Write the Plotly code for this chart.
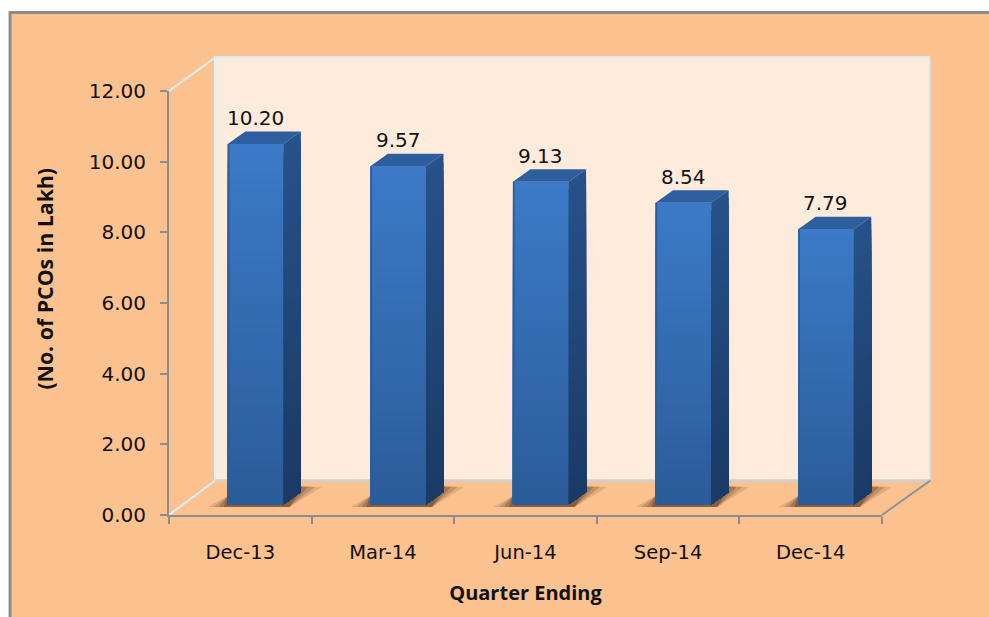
import plotly.graph_objects as go

categories = ["Dec-13", "Mar-14", "Jun-14", "Sep-14", "Dec-14"]
values = [10.20, 9.57, 9.13, 8.54, 7.79]
value_labels = ["10.20", "9.57", "9.13", "8.54", "7.79"]
y_ticks = [0, 2, 4, 6, 8, 10, 12]

W, H = 989, 617
L, R, T, B = 169.3, 881.7, 91, 515
FONT = "DejaVu Sans"
TITLE_FONT = "Open Sans"
PEACH = "#FBC290"
WALL = "#FEEBDC"

UX = (R - L) / 5        # px per category
UY = (B - T) / 12       # px per value unit
BAR_W = 0.39
BAR_OFF = -0.088
BASE = 0.30             # floor offset of the bars, value units
DX = 17.5 / UX          # depth of the 3-D look
DY = 12.5 / UY
BANDS = 40


def px(x):
    return (x - L) / (R - L)


def py(y):
    return (B - y) / (B - T)


def mix(a, b, t):
    ca = [int(a[i:i + 2], 16) for i in (1, 3, 5)]
    cb = [int(b[i:i + 2], 16) for i in (1, 3, 5)]
    return "#%02x%02x%02x" % tuple(round(p + (q - p) * t) for p, q in zip(ca, cb))


shapes = []


def paper_poly(points, fill=None, line=None, width=0, layer="below", opacity=1):
    path = "M " + " L ".join(f"{px(a):.5f},{py(b):.5f}" for a, b in points)
    if fill:
        path += " Z"
    shapes.append(dict(type="path", xref="paper", yref="paper", path=path, layer=layer, opacity=opacity,
                       fillcolor=fill or "rgba(0,0,0,0)",
                       line=dict(color=line or "rgba(0,0,0,0)", width=width)))


def data_poly(points, fill, layer="above"):
    path = "M " + " L ".join(f"{a:.4f},{b:.4f}" for a, b in points) + " Z"
    shapes.append(dict(type="path", xref="x", yref="y", path=path, layer=layer,
                       fillcolor=fill, line=dict(color=fill, width=0)))


# frame and walls
paper_poly([(11, 13), (W + 4, 13), (W + 4, H + 4), (11, H + 4)], fill=PEACH)
paper_poly([(10.5, H + 4), (10.5, 12.5), (W + 4, 12.5)], line="#8C8C8C", width=3)
paper_poly([(215.5, 57.5), (930, 57.5), (930, 480), (215.5, 480)], fill=WALL)
paper_poly([(215.5, 480), (215.5, 57.5), (930, 57.5)], line="#E3EEF0", width=2.5)
paper_poly([(930, 57.5), (930, 480)], line="#D8D8D4", width=1.5)
paper_poly([(215.5, 480.5), (930, 480.5)], line="#CBD1D2", width=2.5)
paper_poly([(L, T), (215.5, 57.5)], line="#DDEFF6", width=2)
paper_poly([(L, B), (215.5, 480.5)], line="#DDEFF6", width=2)
paper_poly([(R, B), (930, 480.5)], line="#8C9296", width=2)

# soft ground shadows
for i in range(len(values)):
    x0 = L + UX * (i + 0.5 + BAR_OFF)
    x1 = x0 + BAR_W * UX
    for k, op in zip((1.0, 0.72, 0.45, 0.2), (0.16, 0.22, 0.30, 0.40)):
        sx = 22 * k
        paper_poly([(x0 - sx * 0.9, 507), (x1 + 6, 507), (x1 + 14 + sx * 1.1, 487),
                    (x1 + 10, 486), (x0, 496)], fill="#5A3A20", opacity=op)

# 3-D faces and the gradient of the front, all from the values
for i, v in enumerate(values):
    x0 = i + BAR_OFF
    x1 = x0 + BAR_W
    top = v + BASE
    data_poly([(x0, top), (x1, top), (x1 + DX, top + DY), (x0 + DX, top + DY)], "#2D5F9E")
    for b in range(BANDS - 1, -1, -1):
        t0, t1 = b / BANDS, (b + 1) / BANDS
        y1 = BASE + v * t1
        # each band reaches to the floor and is painted over by the lower ones, so no seams show
        data_poly([(x0, BASE), (x1, BASE), (x1, y1), (x0, y1)], mix("#2B5C9A", "#3C7BC8", t0))
        data_poly([(x1, BASE), (x1 + DX, BASE + DY), (x1 + DX, y1 + DY), (x1, y1)], mix("#1B3A66", "#27528A", t0))
    data_poly([(x0, BASE), (x0 + 0.012, BASE), (x0 + 0.012, top), (x0, top)], "#2C5E9E")

annotations = [
    dict(x=i + BAR_OFF + BAR_W / 2, y=v + BASE, text=lab, xref="x", yref="y", showarrow=False,
         yanchor="bottom", yshift=12, font=dict(family=FONT, size=20, color="#111111"))
    for i, (v, lab) in enumerate(zip(values, value_labels))
]
annotations.append(dict(
    x=px(44.5), y=py(278.5), xref="paper", yref="paper", showarrow=False, textangle=-90,
    xanchor="center", yanchor="middle", text="<b>(No. of PCOs in Lakh)</b>",
    font=dict(family=TITLE_FONT, size=21.3, color="#111111"),
))

fig = go.Figure(go.Bar(
    x=categories, y=values, base=BASE, width=BAR_W, offset=BAR_OFF,
    marker=dict(color="#3368AE", line=dict(width=0)), hoverinfo="x+y", showlegend=False,
))

fig.update_layout(
    width=W, height=H, autosize=False,
    margin=dict(l=L, r=W - R, t=T, b=H - B, pad=0),
    paper_bgcolor="#FFFFFF", plot_bgcolor="rgba(0,0,0,0)",
    shapes=shapes, annotations=annotations, showlegend=False,
    font=dict(family=FONT, color="#111111"),
    xaxis=dict(
        type="category", tickson="boundaries", range=[-0.5, 4.5], showgrid=False, zeroline=False,
        showline=True, linecolor="#8C8C8C", linewidth=2,
        ticks="outside", ticklen=7, tickwidth=2, tickcolor="#8C8C8C",
        ticklabelstandoff=19,
        tickfont=dict(family=FONT, size=19.5, color="#111111"),
        title=dict(text="<b>Quarter Ending</b>", font=dict(family=TITLE_FONT, size=20, color="#111111"), standoff=23),
    ),
    yaxis=dict(
        range=[0, 12], tickvals=y_ticks, ticktext=[f"{t:.2f}" for t in y_ticks], showgrid=False, zeroline=False,
        showline=True, linecolor="#8C8C8C", linewidth=2,
        ticks="outside", ticklen=7, tickwidth=2, tickcolor="#8C8C8C",
        ticklabelstandoff=10,
        tickfont=dict(family=FONT, size=20, color="#111111"),
    ),
)

fig.write_html("out.html", config=dict(displayModeBar=False),
               post_script="document.body.style.margin='0';document.body.style.background='#FFFFFF';")
